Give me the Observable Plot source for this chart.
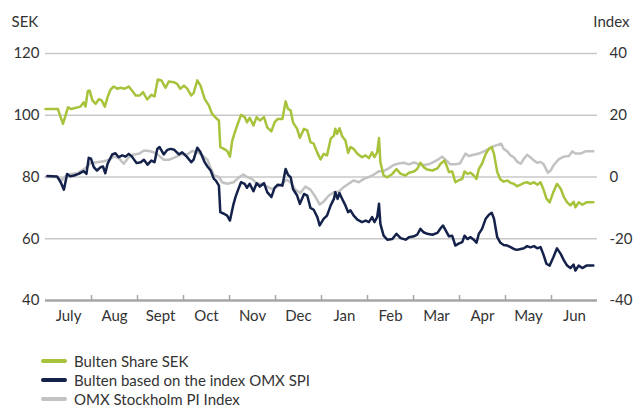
<!DOCTYPE html>
<html><head><meta charset="utf-8">
<script src="https://cdn.jsdelivr.net/npm/d3@7"></script>
<script src="https://cdn.jsdelivr.net/npm/@observablehq/plot@0.6"></script>
<style>
body{margin:0;background:#fff;font-family:Lato,"Open Sans",sans-serif;}
#legend{padding-top:21px;margin-left:41px}
.item{display:flex;align-items:center;height:19px;font-size:15px;color:#333}
.sw{width:26px;height:4px;border-radius:2px;margin-right:7px}
</style>
</head><body>
<div id="chart"></div>
<div id="legend"></div>
<script>
const months = ["July","Aug","Sept","Oct","Nov","Dec","Jan","Feb","Mar","Apr","May","Jun"];
const leftTicks = [40,60,80,100,120];
const rightTicks = [-40,-20,0,20,40];
const seriesNames = ["Bulten Share SEK","Bulten based on the index OMX SPI","OMX Stockholm PI Index"];
const seriesColors = ["#a6c33b","#14214a","#c2c2c2"];

// time in months from start of July
const shareT = [0,0.27,0.38,0.49,0.56,0.76,0.83,0.87,0.92,0.96,1.02,1.09,1.16,1.22,1.29,1.35,1.41,1.48,1.56,1.63,1.72,1.81,1.88,1.96,2.05,2.12,2.21,2.30,2.37,2.44,2.52,2.61,2.68,2.79,2.86,2.93,3.01,3.08,3.17,3.22,3.30,3.37,3.46,3.55,3.62,3.70,3.77,3.80,3.88,3.95,4.01,4.06,4.13,4.18,4.25,4.33,4.38,4.44,4.52,4.59,4.66,4.75,4.82,4.91,4.98,5.05,5.15,5.22,5.27,5.33,5.38,5.47,5.53,5.62,5.69,5.76,5.83,5.91,5.98,6.05,6.12,6.20,6.27,6.30,6.34,6.39,6.45,6.52,6.58,6.63,6.70,6.78,6.88,6.96,7.03,7.10,7.15,7.21,7.25,7.28,7.35,7.43,7.54,7.63,7.72,7.83,7.90,8.01,8.08,8.15,8.22,8.30,8.41,8.52,8.59,8.67,8.72,8.77,8.84,8.91,8.98,9.06,9.11,9.17,9.24,9.31,9.37,9.42,9.49,9.57,9.64,9.70,9.75,9.82,9.89,9.96,10.04,10.11,10.18,10.25,10.33,10.40,10.47,10.54,10.62,10.69,10.76,10.82,10.89,10.96,11.04,11.12,11.20,11.27,11.34,11.41,11.48,11.52,11.59,11.67,11.76,11.91];
const shareSEK = [102,102,97.2,102.6,102,102.8,104.2,102.8,107.8,108,104.8,103.7,105.2,104.8,102.8,105.9,108.2,109.3,108.6,108.9,108.6,109.3,108,106.4,106.4,107.5,105.1,106.6,106.1,111.6,111.3,108.9,110.9,110.7,110.2,108.6,109.6,108.6,106.4,107.2,111.3,109.6,105.3,103.2,100.5,99.2,98.3,89.7,89.1,88.4,86.6,91.8,95.1,97.2,100.1,99.4,97.7,99.2,96.7,99.4,98.3,99.4,96.1,94.8,97.7,98.8,98.8,104.5,102.1,101.5,97.7,95.6,92.7,95.6,95.1,91.3,90.8,87.8,85.7,87.5,87,92.4,93.4,95.6,94,95.8,93.2,91.8,87.8,89.7,89.1,87.5,86.4,87,86.1,88,86.4,88,92.6,84.8,80.5,79.9,81,82.6,81,80.5,81.4,81.8,82.6,84.6,83.2,82.4,82.1,82.8,84.3,85.3,83.7,81.6,81.8,78.3,78.9,79.4,81.8,81,81.4,80.5,79.4,82.6,84.3,87.5,89.1,89.7,87.5,81.6,79.2,78.5,78.9,78.1,77.8,77,77.5,78.1,78.3,77.8,78.3,77.5,78.3,76.2,73,71.8,75.1,77.8,76.2,73.5,71.8,70.8,72,70.2,71.8,71,71.8,71.8];

const spiT = [0.04,0.25,0.33,0.40,0.47,0.54,0.62,0.72,0.83,0.89,0.94,0.99,1.05,1.12,1.20,1.25,1.30,1.35,1.45,1.52,1.59,1.67,1.74,1.81,1.88,1.98,2.07,2.14,2.22,2.30,2.37,2.43,2.48,2.57,2.65,2.72,2.80,2.90,2.97,3.07,3.17,3.22,3.30,3.37,3.46,3.52,3.59,3.66,3.70,3.77,3.80,3.88,3.95,4.01,4.08,4.13,4.18,4.25,4.33,4.38,4.44,4.52,4.59,4.66,4.75,4.82,4.91,4.98,5.05,5.15,5.22,5.27,5.33,5.38,5.47,5.53,5.62,5.69,5.76,5.83,5.91,5.96,6.05,6.12,6.20,6.27,6.30,6.35,6.39,6.45,6.52,6.58,6.63,6.70,6.78,6.88,6.96,7.03,7.10,7.15,7.21,7.25,7.28,7.35,7.43,7.54,7.63,7.72,7.83,7.90,8.01,8.08,8.15,8.22,8.30,8.41,8.52,8.59,8.64,8.70,8.77,8.84,8.91,8.98,9.06,9.11,9.17,9.24,9.31,9.37,9.42,9.49,9.57,9.64,9.70,9.75,9.82,9.89,9.96,10.04,10.11,10.18,10.25,10.33,10.40,10.47,10.54,10.62,10.69,10.76,10.82,10.89,10.96,11.04,11.12,11.20,11.27,11.34,11.41,11.48,11.52,11.59,11.67,11.76,11.91];
const spiIdx = [0.3,0.2,-1.7,-4.1,1.0,0.2,0.5,1.0,1.9,1,6.2,5.9,3.2,2.1,3.2,3.4,1.2,4.3,7.3,7.7,6.4,7,6.6,7.5,6.6,4.5,4.8,5.6,4,5.3,4.8,9.1,9.7,7.3,8.8,9.1,8.8,7.3,8.0,6.6,4.8,5.6,9.5,8,4.8,3.4,2.1,-0.6,-1.1,-2.8,-11.4,-11.9,-12.5,-14.1,-9.2,-6.5,-4.4,-1.7,-2.2,-3.5,-2.2,-4.6,-2.0,-3.1,-2.0,-4.9,-6.5,-3.5,-2.5,-2.8,2.6,0.8,-0.1,-3.9,-6,-8.7,-5.5,-6,-10,-10.6,-13,-15.7,-13.5,-12.5,-9.2,-7.1,-4.9,-7.1,-5.2,-7.1,-9.2,-11.4,-10.8,-12.5,-13.8,-14.6,-14.1,-14.6,-13,-14.6,-13,-8.7,-15.2,-19,-20.3,-20.1,-18.4,-19.8,-20.3,-19.5,-19.2,-18.7,-16.8,-17.9,-18.4,-18.7,-18.1,-16.6,-15.7,-17.3,-19.2,-19,-22.2,-21.6,-21.1,-19,-20.1,-19.5,-20.3,-21.3,-18.4,-16.8,-13.5,-12.2,-11.6,-13.5,-19.5,-21.3,-22,-22.2,-22.7,-23.3,-23.6,-23.3,-23.1,-22.4,-22.8,-22.4,-23.1,-22.7,-24.9,-28.1,-28.7,-26,-23.1,-24.9,-27,-28.7,-29.5,-28.4,-30.3,-28.7,-29.5,-28.7,-28.7];

const omxT = [0,0.25,0.36,0.47,0.69,0.87,0.98,1.12,1.27,1.38,1.48,1.59,1.70,1.81,1.92,2.03,2.14,2.25,2.35,2.46,2.57,2.68,2.79,2.90,2.99,3.08,3.19,3.30,3.41,3.52,3.60,3.66,3.77,3.84,3.95,4.09,4.20,4.30,4.38,4.49,4.60,4.71,4.82,4.93,5.04,5.15,5.24,5.33,5.43,5.54,5.65,5.76,5.87,5.96,6.05,6.16,6.27,6.38,6.48,6.59,6.70,6.81,6.92,7.03,7.14,7.25,7.35,7.46,7.57,7.68,7.79,7.90,8.01,8.12,8.22,8.33,8.44,8.55,8.62,8.70,8.80,8.91,9.01,9.13,9.20,9.31,9.42,9.53,9.64,9.75,9.83,9.91,9.96,10.04,10.11,10.18,10.25,10.33,10.40,10.47,10.54,10.62,10.69,10.76,10.83,10.92,10.98,11.05,11.16,11.27,11.38,11.45,11.52,11.63,11.74,11.91];
const omxIdx = [0,0.1,-1,0.8,1.2,2.9,4.5,4.8,5.1,5.6,6.6,6.2,4.3,6.4,7.3,7.5,8.6,8.4,8.0,7,5.6,5.6,6.2,7,7.5,7.3,8.4,8,7,5.6,2.6,0.5,0,-1.7,-2.2,-1.7,-0.2,0.8,0,-0.6,-2.2,-2.2,-3.1,-3.9,-3.1,-2,-0.9,-1.7,-4.1,-5.2,-3.1,-4.1,-6.5,-8.9,-7.9,-6,-4.9,-4.7,-3.3,-2.2,-1.1,-1.7,-0.6,0,0.8,1.9,1.9,2.8,3.9,4.4,4.6,4.1,4.7,4.1,3.9,4.1,4.9,5.8,6.6,5.5,4.1,4.1,4.4,7.6,6.8,7.2,7.6,8.3,9.1,10,10.4,10.8,9.1,8.3,7,6.4,5,4.3,5.9,7.2,6.4,5.3,4.6,4.9,4.1,1.4,2.1,3.9,5.8,6.6,6.8,8.3,7.6,7.6,8.3,8.3];

// index value 0 corresponds to 80 SEK on the shared vertical scale
const indexBase = 80;
const share = shareT.map((t,i)=>({t, v: shareSEK[i]}));
const spi = spiT.map((t,i)=>({t, v: spiIdx[i] + indexBase}));
const omx = omxT.map((t,i)=>({t, v: omxIdx[i] + indexBase}));

const chart = Plot.plot({
  width: 636, height: 330,
  marginLeft: 45, marginRight: 39, marginTop: 53, marginBottom: 30,
  style: {fontFamily: "Lato, 'Open Sans', sans-serif", fontSize: "15px", color: "#333", background: "#fff"},
  x: {domain: [0, 12]},
  y: {domain: [40, 120]},
  marks: [
    Plot.gridY(leftTicks.slice(1), {stroke: "#c8c8c8", strokeOpacity: 1, strokeWidth: 1.5}),
    Plot.ruleY([leftTicks[0]], {stroke: "#a6a6a6", strokeWidth: 2.5}),
    Plot.axisX(d3.range(1, 12), {tickSize: -5, tickFormat: () => "", stroke: "#a6a6a6", strokeWidth: 1.5, label: null}),
    Plot.axisX(months.map((m,i)=>i+0.5), {tickSize: 0, tickPadding: 10, tickFormat: v => months[Math.floor(v)], label: null, fill: "#333"}),
    Plot.axisY(leftTicks, {anchor: "left", tickSize: 0, tickPadding: 6, label: null, fill: "#333"}),
    Plot.axisY(rightTicks.map(d => d + indexBase), {anchor: "right", tickSize: 0, tickPadding: 12, tickFormat: d => String(d - indexBase), label: null, fill: "#333"}),
    Plot.text(["SEK"], {frameAnchor: "top-left", textAnchor: "start", lineAnchor: "middle", dx: -34, dy: -31, fill: "#333"}),
    Plot.text(["Index"], {frameAnchor: "top-right", textAnchor: "end", lineAnchor: "middle", dx: 32, dy: -31, fill: "#333"}),
    Plot.line(omx, {x: "t", y: "v", stroke: seriesColors[2], strokeWidth: 2.5}),
    Plot.line(share, {x: "t", y: "v", stroke: seriesColors[0], strokeWidth: 2.5}),
    Plot.line(spi, {x: "t", y: "v", stroke: seriesColors[1], strokeWidth: 2.5})
  ]
});
document.getElementById("chart").appendChild(chart);

const legend = document.getElementById("legend");
seriesNames.forEach((n,i)=>{
  const row = document.createElement("div"); row.className = "item";
  const sw = document.createElement("div"); sw.className = "sw"; sw.style.background = seriesColors[i];
  const tx = document.createElement("span"); tx.textContent = n;
  row.appendChild(sw); row.appendChild(tx); legend.appendChild(row);
});
</script>
</body></html>
